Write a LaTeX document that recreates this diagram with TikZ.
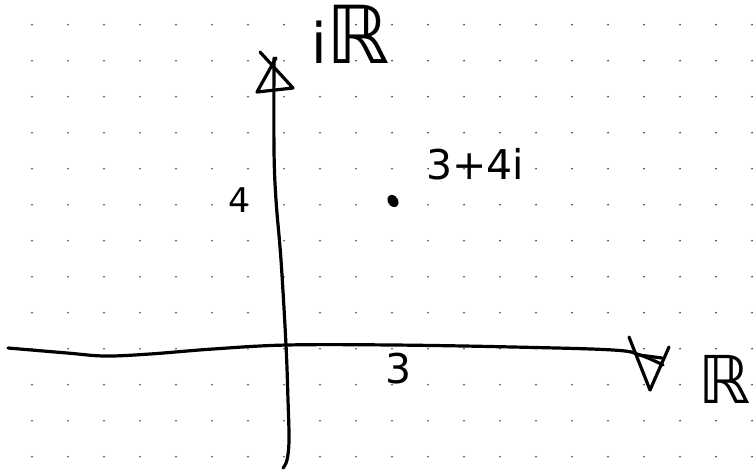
\documentclass[tikz,border=0pt]{standalone}
\usepackage{fontspec}
\setmainfont{DejaVu Sans}
\begin{document}
\begin{tikzpicture}[x=1pt,y=-1pt,
  ink/.style={line width=3.2pt,line cap=round,line join=round},
  griddot/.style={fill=black!75,draw=none},
  lbl/.style={inner sep=0pt,anchor=base,text=black}]
\useasboundingbox (0,0) rectangle (755,472);
\fill[white] (0,0) rectangle (755,472);
% dot grid
\foreach \i in {0,...,20}{
  \foreach \j in {0,...,12}{
    \fill[griddot] (32+36*\i,24.7+36*\j) circle (0.95);
  }
}
% real axis
\coordinate (reL) at (8,348);
\coordinate (reR) at (663,365);
\draw[ink] plot[smooth,tension=0.6] coordinates {(reL) (67,353) (105,356) (150,354) (213,349) (287,345) (393,345) (513,347) (613,350) (640,355) (reR)};
% real arrowhead
\coordinate (ra1) at (629,337);
\coordinate (ra2) at (650,390);
\coordinate (ra3) at (669,347);
\draw[ink] (ra1) -- (ra2) -- (ra3);
\draw[ink] (639,355) -- (662,358);
% imaginary axis
\coordinate (imT) at (274,58);
\coordinate (imB) at (283,468);
\draw[ink] plot[smooth,tension=0.6] coordinates {(imT) (274,150) (276,200) (281,260) (286,345) (288,400) (289,440) (287,460) (imB)};
% imaginary arrowhead
\coordinate (ia1) at (260,52);
\coordinate (ia2) at (293,88);
\coordinate (ia3) at (257,92);
\coordinate (ia4) at (276,58);
\draw[ink] (ia1) -- (ia2) -- (ia3) -- (ia4);
% labels
\node[lbl,anchor=base west] (imlabel) at (311,63) {{\fontsize{56}{56}\selectfont i}{\fontsize{80}{80}\selectfont ℝ}};
\node[lbl,anchor=base east] (relabel) at (751,403) {\fontsize{66}{66}\selectfont ℝ};
\node[lbl] (pt) at (475,179) {\fontsize{41}{41}\selectfont 3+4i};
\node[lbl] (four) at (239,212) {\fontsize{34}{34}\selectfont 4};
\node[lbl] (three) at (399,383) {\fontsize{41}{41}\selectfont 3};
% the point
\fill[black,rotate around={35:(393,201)}] (393,201) ellipse (5 and 6.5);
\coordinate (dot) at (393,201);
\end{tikzpicture}
\end{document}
